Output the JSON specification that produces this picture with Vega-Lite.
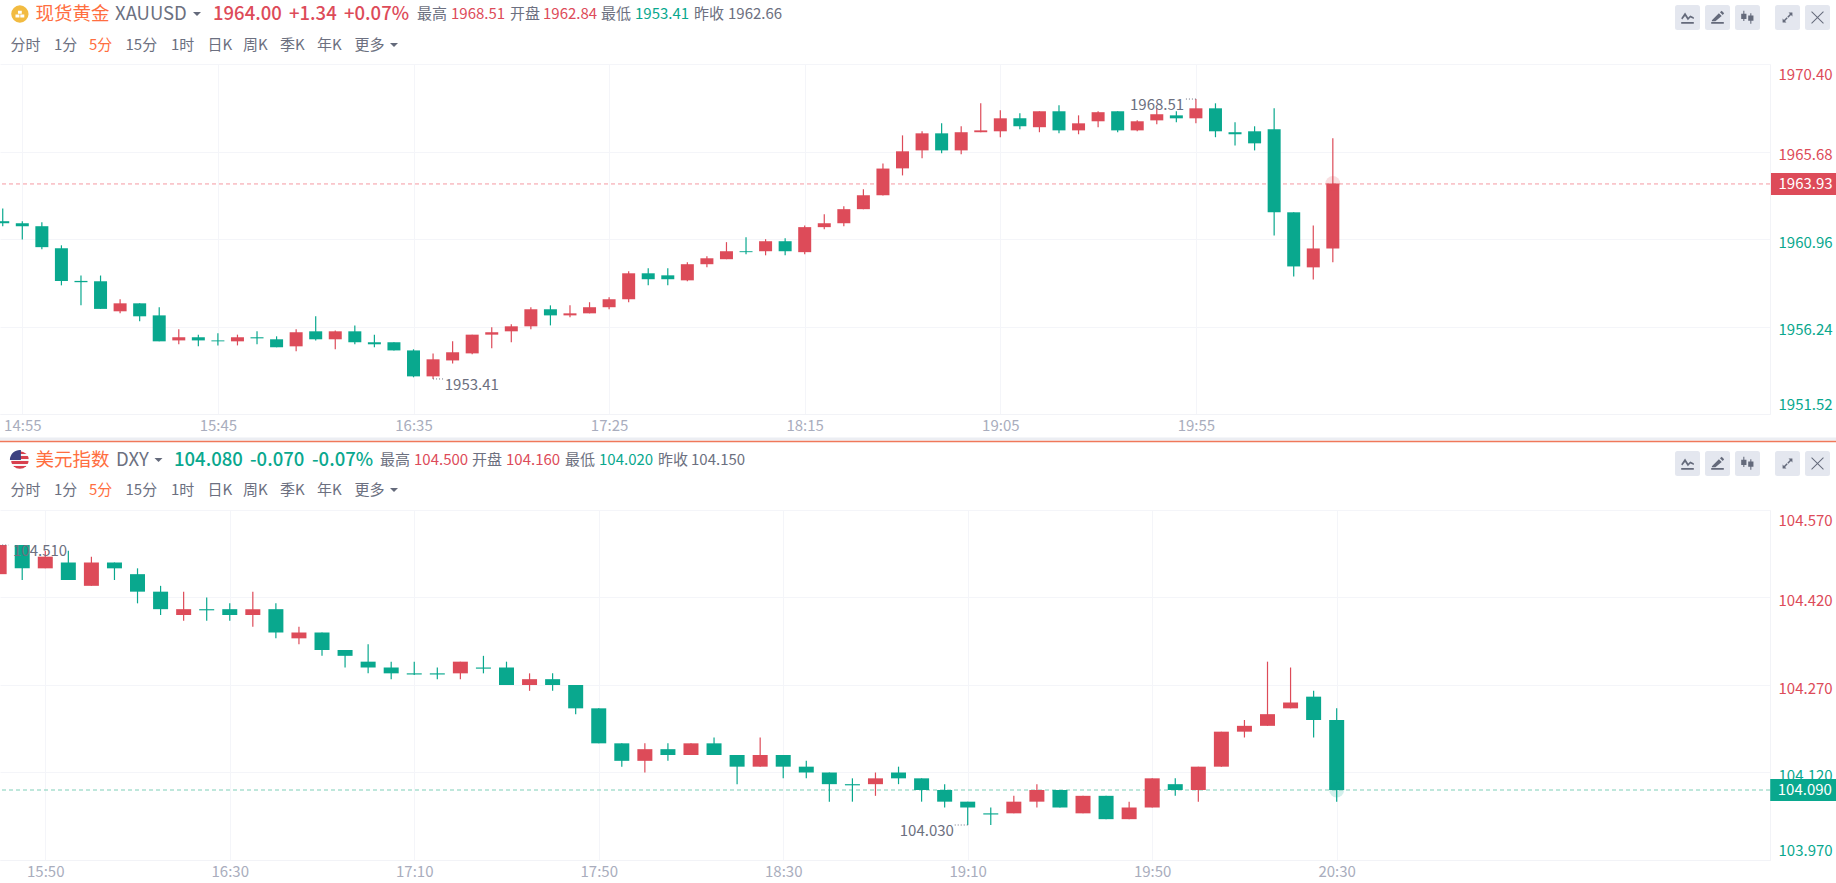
{
"$schema":"https://vega.github.io/schema/vega-lite/v6.json",
"background":"#ffffff","padding":0,"autosize":{"type":"pad"},"spacing":0,"bounds":"flush",
"config":{"view":{"stroke":null},"font":"Noto Sans CJK SC","text":{"font":"Noto Sans CJK SC"},"axis":{"labelFont":"Noto Sans CJK SC"}},
"datasets":{
"head1":[
{"s":1,"r":1,"label":"现货黄金","kind":"name"},
{"s":2,"r":1,"label":"XAUUSD","kind":"sym"},
{"s":4,"r":1,"label":"1964.00","kind":"quoteUp"},
{"s":5,"r":1,"label":"+1.34","kind":"quoteUp"},
{"s":6,"r":1,"label":"+0.07%","kind":"quoteUp"},
{"s":7,"r":1,"label":"最高","kind":"lab"},
{"s":8,"r":1,"label":"1968.51","kind":"valUp"},
{"s":9,"r":1,"label":"开盘","kind":"lab"},
{"s":10,"r":1,"label":"1962.84","kind":"valUp"},
{"s":11,"r":1,"label":"最低","kind":"lab"},
{"s":12,"r":1,"label":"1953.41","kind":"valDown"},
{"s":13,"r":1,"label":"昨收","kind":"lab"},
{"s":14,"r":1,"label":"1962.66","kind":"lab"},
{"s":15,"r":2,"label":"分时","kind":"lab"},
{"s":16,"r":2,"label":"1分","kind":"lab"},
{"s":17,"r":2,"label":"5分","kind":"name2"},
{"s":18,"r":2,"label":"15分","kind":"lab"},
{"s":19,"r":2,"label":"1时","kind":"lab"},
{"s":20,"r":2,"label":"日K","kind":"lab"},
{"s":21,"r":2,"label":"周K","kind":"lab"},
{"s":22,"r":2,"label":"季K","kind":"lab"},
{"s":23,"r":2,"label":"年K","kind":"lab"},
{"s":24,"r":2,"label":"更多","kind":"lab"}
],
"head2":[
{"s":1,"r":1,"label":"美元指数","kind":"name"},
{"s":2,"r":1,"label":"DXY","kind":"sym"},
{"s":4,"r":1,"label":"104.080","kind":"quoteDown"},
{"s":5,"r":1,"label":"-0.070","kind":"quoteDown"},
{"s":6,"r":1,"label":"-0.07%","kind":"quoteDown"},
{"s":7,"r":1,"label":"最高","kind":"lab"},
{"s":8,"r":1,"label":"104.500","kind":"valUp"},
{"s":9,"r":1,"label":"开盘","kind":"lab"},
{"s":10,"r":1,"label":"104.160","kind":"valUp"},
{"s":11,"r":1,"label":"最低","kind":"lab"},
{"s":12,"r":1,"label":"104.020","kind":"valDown"},
{"s":13,"r":1,"label":"昨收","kind":"lab"},
{"s":14,"r":1,"label":"104.150","kind":"lab"},
{"s":15,"r":2,"label":"分时","kind":"lab"},
{"s":16,"r":2,"label":"1分","kind":"lab"},
{"s":17,"r":2,"label":"5分","kind":"name2"},
{"s":18,"r":2,"label":"15分","kind":"lab"},
{"s":19,"r":2,"label":"1时","kind":"lab"},
{"s":20,"r":2,"label":"日K","kind":"lab"},
{"s":21,"r":2,"label":"周K","kind":"lab"},
{"s":22,"r":2,"label":"季K","kind":"lab"},
{"s":23,"r":2,"label":"年K","kind":"lab"},
{"s":24,"r":2,"label":"更多","kind":"lab"}
],
"tools":[
{"s":26,"r":3,"icon":"bg","z":0},{"s":27,"r":3,"icon":"bg","z":0},{"s":28,"r":3,"icon":"bg","z":0},{"s":29,"r":3,"icon":"bg","z":0},{"s":30,"r":3,"icon":"bg","z":0},
{"s":26,"r":3,"icon":"indicator","z":1},{"s":27,"r":3,"icon":"pen","z":1},{"s":28,"r":3,"icon":"candle","z":1},{"s":29,"r":3,"icon":"expand","z":1},{"s":30,"r":3,"icon":"close","z":1},
{"s":3,"r":1,"icon":"tri","z":1},{"s":25,"r":2,"icon":"tri","z":1}
]
},
"vconcat":[
{"width":1836,"height":64,
 "layer":[
  {"data":{"name":"tools"},"mark":{"type":"point","filled":true,"opacity":1},
   "encoding":{
    "x":{"field":"s","type":"quantitative","axis":null,"scale":{"nice":false,"zero":false,"domain":[0,1,2,3,4,5,6,7,8,9,10,11,12,13,14,15,16,17,18,19,20,21,22,23,24,25,26,27,28,29,30,31],"range":[0,35.5,115,197,213,289,344,417,451,510,543,601,635,694,728,10.5,54,89,125.5,171,207.6,243,280,317,354.6,394,1687.5,1717.5,1747.5,1787.5,1817.5,1836]}},
    "y":{"field":"r","type":"quantitative","axis":null,"scale":{"nice":false,"zero":false,"domain":[1,2,3],"range":[14,45,17.5]}},
    "order":{"field":"z"},
    "shape":{"field":"icon","type":"nominal","legend":null,"scale":{"domain":["bg","indicator","pen","candle","expand","close","tri"],"range":["M-0.8,-1H0.8Q1,-1 1,-0.8V0.8Q1,1 0.8,1H-0.8Q-1,1 -1,0.8V-0.8Q-1,-1 -0.8,-1Z","M-0.9,0.65H0.9V0.9H-0.9ZM-0.9,0.1L-0.35,-0.7L0.1,0L0.4,-0.3L0.9,-0.05V0.2L0.42,0L0.05,0.4L-0.35,-0.2L-0.75,0.3Z","M-0.9,0.65H0.9V0.9H-0.9ZM-0.8,0.4L0.2,-0.6L0.6,-0.2L-0.3,0.55H-0.8ZM0.35,-0.75L0.6,-0.95L0.95,-0.6L0.75,-0.35Z","M-0.6,-0.95H-0.45V-0.55H-0.15V0.2H-0.45V0.5H-0.6V0.2H-0.9V-0.55H-0.6ZM0.4,-0.6H0.55V-0.3H0.85V0.45H0.55V0.9H0.4V0.45H0.1V-0.3H0.4Z","M0.15,-0.7H0.7V-0.15L0.5,-0.35L0.12,0.03L-0.03,-0.12L0.35,-0.5ZM-0.15,0.7H-0.7V0.15L-0.5,0.35L-0.12,-0.03L0.03,0.12L-0.35,0.5Z","M-0.9,-0.8L-0.8,-0.9L0,-0.1L0.8,-0.9L0.9,-0.8L0.1,0L0.9,0.8L0.8,0.9L0,0.1L-0.8,0.9L-0.9,0.8L-0.1,0Z","M-1,-0.5H1L0,0.5Z"]}},
    "size":{"field":"icon","type":"nominal","legend":null,"scale":{"type":"ordinal","domain":["bg","indicator","pen","candle","expand","close","tri"],"range":[625,196,196,196,196,196,64]}},
    "color":{"field":"icon","type":"nominal","legend":null,"scale":{"domain":["bg","indicator","pen","candle","expand","close","tri"],"range":["#e4e7ef","#646a7b","#646a7b","#646a7b","#646a7b","#646a7b","#646a7b"]}}
   }},
  {"data":{"values":[{"s":0.56,"r":1,"icon":"coin"}]},"mark":{"type":"point","filled":true,"opacity":1,"shape":"circle","size":300,"color":"#f2bb41"},"encoding":{"x":{"field":"s","type":"quantitative"},"y":{"field":"r","type":"quantitative"}}},
  {"data":{"values":[{"s":0.56,"r":1,"icon":"coin"}]},"mark":{"type":"point","filled":true,"opacity":1,"size":121,"color":"#ffffff","shape":"M-0.35,-0.6H0.35V-0.05H-0.35ZM-0.8,0.1H-0.08V0.65H-0.8ZM0.08,0.1H0.8V0.65H0.08Z"},"encoding":{"x":{"field":"s","type":"quantitative"},"y":{"field":"r","type":"quantitative"}}},
  {"data":{"name":"head1"},"transform":[{"filter":"indexof(datum.kind,'quote')!==0"}],"mark":{"type":"text","align":"left","baseline":"middle","font":"Noto Sans CJK SC"},
   "encoding":{"x":{"field":"s","type":"quantitative"},"y":{"field":"r","type":"quantitative"},"text":{"field":"label"},
    "size":{"field":"kind","type":"nominal","legend":null,"scale":{"type":"ordinal","domain":["name","sym","lab","valUp","valDown","name2"],"range":[18.5,18.5,15,15,15,15]}},
    "color":{"field":"kind","type":"nominal","legend":null,"scale":{"domain":["name","sym","lab","valUp","valDown","name2"],"range":["#ff6e40","#6c7080","#6c7080","#dd4b59","#09a88e","#ff6e40"]}}}},
  {"data":{"name":"head1"},"transform":[{"filter":"indexof(datum.kind,'quote')===0"}],"mark":{"type":"text","align":"left","baseline":"middle","font":"Noto Sans CJK SC","fontSize":18.5,"fontWeight":500,"color":"#dd4b59"},
   "encoding":{"x":{"field":"s","type":"quantitative"},"y":{"field":"r","type":"quantitative"},"text":{"field":"label"}}}
 ],
 "resolve":{"scale":{"size":"independent","color":"independent"}}
},
{"width":1770,"height":350,
 "layer":[
  {"data":{"values":[{"p":1963.93}]},"mark":{"type":"rule","color":"#f59aa3","strokeWidth":1,"strokeDash":[4,3],"clip":true},
   "encoding":{"y":{"field":"p","type":"quantitative","title":null,"scale":{"domain":[1951.52,1970.40],"nice":false,"zero":false},
     "axis":{"orient":"right","title":null,"values":[1951.52,1956.24,1960.96,1965.68,1970.40],"format":".2f","grid":true,"gridColor":"#f4f5f9","gridWidth":1,"ticks":false,"domain":true,"domainColor":"#f2f3f7","labelPadding":8,"labelFontSize":15,"labelFont":"Noto Sans CJK SC","labelOffset":{"condition":[{"test":"datum.value>1970","value":10.5},{"test":"datum.value<1952","value":-10}],"value":3},"labelColor":{"condition":{"test":"datum.value>1962.66","value":"#dd4b59"},"value":"#09a88e"}}}}},
  {"data":{"values":[
{"t":"14:50","o":1961.92,"h":1962.6,"l":1961.65,"c":1961.81,"d":"d"},
{"t":"14:55","o":1961.81,"h":1961.92,"l":1960.93,"c":1961.65,"d":"d"},
{"t":"15:00","o":1961.65,"h":1961.87,"l":1960.41,"c":1960.52,"d":"d"},
{"t":"15:05","o":1960.46,"h":1960.62,"l":1958.46,"c":1958.7,"d":"d"},
{"t":"15:10","o":1958.7,"h":1958.99,"l":1957.38,"c":1958.63,"d":"d"},
{"t":"15:15","o":1958.68,"h":1958.99,"l":1957.19,"c":1957.19,"d":"d"},
{"t":"15:20","o":1957.06,"h":1957.71,"l":1956.95,"c":1957.49,"d":"u"},
{"t":"15:25","o":1957.49,"h":1957.49,"l":1956.52,"c":1956.79,"d":"d"},
{"t":"15:30","o":1956.84,"h":1957.28,"l":1955.44,"c":1955.44,"d":"d"},
{"t":"15:35","o":1955.49,"h":1956.09,"l":1955.28,"c":1955.66,"d":"u"},
{"t":"15:40","o":1955.66,"h":1955.8,"l":1955.17,"c":1955.49,"d":"d"},
{"t":"15:45","o":1955.49,"h":1955.87,"l":1955.22,"c":1955.44,"d":"d"},
{"t":"15:50","o":1955.44,"h":1955.8,"l":1955.22,"c":1955.66,"d":"u"},
{"t":"15:55","o":1955.66,"h":1955.98,"l":1955.28,"c":1955.6,"d":"d"},
{"t":"16:00","o":1955.55,"h":1955.71,"l":1955.12,"c":1955.12,"d":"d"},
{"t":"16:05","o":1955.17,"h":1956.09,"l":1954.9,"c":1955.93,"d":"u"},
{"t":"16:10","o":1955.98,"h":1956.79,"l":1955.49,"c":1955.55,"d":"d"},
{"t":"16:15","o":1955.55,"h":1956.03,"l":1955.01,"c":1955.98,"d":"u"},
{"t":"16:20","o":1955.98,"h":1956.3,"l":1955.28,"c":1955.39,"d":"d"},
{"t":"16:25","o":1955.39,"h":1955.8,"l":1955.12,"c":1955.28,"d":"d"},
{"t":"16:30","o":1955.39,"h":1955.39,"l":1954.95,"c":1954.95,"d":"d"},
{"t":"16:35","o":1954.95,"h":1955.01,"l":1953.5,"c":1953.55,"d":"d"},
{"t":"16:40","o":1953.55,"h":1954.79,"l":1953.41,"c":1954.47,"d":"u"},
{"t":"16:45","o":1954.41,"h":1955.44,"l":1954.25,"c":1954.85,"d":"u"},
{"t":"16:50","o":1954.79,"h":1955.8,"l":1954.74,"c":1955.8,"d":"u"},
{"t":"16:55","o":1955.8,"h":1956.2,"l":1955.06,"c":1955.93,"d":"u"},
{"t":"17:00","o":1955.98,"h":1956.36,"l":1955.39,"c":1956.25,"d":"u"},
{"t":"17:05","o":1956.25,"h":1957.28,"l":1956.09,"c":1957.17,"d":"u"},
{"t":"17:10","o":1957.17,"h":1957.38,"l":1956.3,"c":1956.84,"d":"d"},
{"t":"17:15","o":1956.84,"h":1957.38,"l":1956.74,"c":1956.95,"d":"u"},
{"t":"17:20","o":1956.95,"h":1957.55,"l":1956.95,"c":1957.28,"d":"u"},
{"t":"17:25","o":1957.28,"h":1957.82,"l":1957.17,"c":1957.71,"d":"u"},
{"t":"17:30","o":1957.71,"h":1959.22,"l":1957.55,"c":1959.11,"d":"u"},
{"t":"17:35","o":1959.11,"h":1959.38,"l":1958.46,"c":1958.79,"d":"d"},
{"t":"17:40","o":1959.0,"h":1959.38,"l":1958.46,"c":1958.79,"d":"d"},
{"t":"17:45","o":1958.73,"h":1959.71,"l":1958.68,"c":1959.6,"d":"u"},
{"t":"17:50","o":1959.6,"h":1960.03,"l":1959.44,"c":1959.92,"d":"u"},
{"t":"17:55","o":1959.87,"h":1960.79,"l":1959.87,"c":1960.3,"d":"u"},
{"t":"18:00","o":1960.3,"h":1961.06,"l":1960.14,"c":1960.25,"d":"d"},
{"t":"18:05","o":1960.3,"h":1960.95,"l":1960.08,"c":1960.84,"d":"u"},
{"t":"18:10","o":1960.84,"h":1961.0,"l":1960.08,"c":1960.3,"d":"d"},
{"t":"18:15","o":1960.25,"h":1961.69,"l":1960.14,"c":1961.6,"d":"u"},
{"t":"18:20","o":1961.6,"h":1962.3,"l":1961.49,"c":1961.81,"d":"u"},
{"t":"18:25","o":1961.81,"h":1962.73,"l":1961.65,"c":1962.57,"d":"u"},
{"t":"18:30","o":1962.57,"h":1963.65,"l":1962.57,"c":1963.32,"d":"u"},
{"t":"18:35","o":1963.32,"h":1965.03,"l":1963.31,"c":1964.76,"d":"u"},
{"t":"18:40","o":1964.77,"h":1966.55,"l":1964.39,"c":1965.69,"d":"u"},
{"t":"18:45","o":1965.74,"h":1966.77,"l":1965.31,"c":1966.66,"d":"u"},
{"t":"18:50","o":1966.66,"h":1967.2,"l":1965.58,"c":1965.74,"d":"d"},
{"t":"18:55","o":1965.74,"h":1967.04,"l":1965.53,"c":1966.72,"d":"u"},
{"t":"19:00","o":1966.72,"h":1968.28,"l":1966.72,"c":1966.82,"d":"u"},
{"t":"19:05","o":1966.77,"h":1967.9,"l":1966.45,"c":1967.47,"d":"u"},
{"t":"19:10","o":1967.47,"h":1967.74,"l":1966.88,"c":1967.04,"d":"d"},
{"t":"19:15","o":1966.99,"h":1967.85,"l":1966.72,"c":1967.85,"d":"u"},
{"t":"19:20","o":1967.85,"h":1968.17,"l":1966.66,"c":1966.82,"d":"d"},
{"t":"19:25","o":1966.82,"h":1967.63,"l":1966.61,"c":1967.2,"d":"u"},
{"t":"19:30","o":1967.31,"h":1967.85,"l":1966.99,"c":1967.8,"d":"u"},
{"t":"19:35","o":1967.85,"h":1967.85,"l":1966.72,"c":1966.82,"d":"d"},
{"t":"19:40","o":1966.82,"h":1967.36,"l":1966.77,"c":1967.31,"d":"u"},
{"t":"19:45","o":1967.36,"h":1968.01,"l":1967.15,"c":1967.69,"d":"u"},
{"t":"19:50","o":1967.63,"h":1967.85,"l":1967.26,"c":1967.47,"d":"d"},
{"t":"19:55","o":1967.47,"h":1968.51,"l":1967.2,"c":1968.01,"d":"u"},
{"t":"20:00","o":1968.01,"h":1968.28,"l":1966.45,"c":1966.77,"d":"d"},
{"t":"20:05","o":1966.72,"h":1967.26,"l":1966.01,"c":1966.61,"d":"d"},
{"t":"20:10","o":1966.77,"h":1967.04,"l":1965.74,"c":1966.12,"d":"d"},
{"t":"20:15","o":1966.88,"h":1968.01,"l":1961.15,"c":1962.4,"d":"d"},
{"t":"20:20","o":1962.4,"h":1962.4,"l":1958.94,"c":1959.48,"d":"d"},
{"t":"20:25","o":1959.43,"h":1961.69,"l":1958.78,"c":1960.45,"d":"u"},
{"t":"20:30","o":1960.45,"h":1966.39,"l":1959.7,"c":1963.96,"d":"u"}
],"format":{"parse":{"t":"utc:'%H:%M'"}}},
  "layer":[
  {"mark":{"type":"rule","strokeWidth":1.2,"clip":true},
   "encoding":{"x":{"field":"t","type":"temporal","title":null,"scale":{"type":"utc","padding":0,"domain":[{"year":1900,"month":1,"date":1,"hours":14,"minutes":49,"seconds":18,"utc":true},{"year":1900,"month":1,"date":1,"hours":22,"minutes":21,"seconds":45,"utc":true}]},
     "axis":{"orient":"bottom","title":null,"format":"%H:%M","grid":true,"gridColor":"#f4f5f9","gridWidth":1,"ticks":false,"domain":true,"domainColor":"#f2f3f7","labelColor":"#a9adbd","labelFontSize":15,"labelFont":"Noto Sans CJK SC","labelPadding":4,"labelOverlap":false,
      "values":[{"year":1900,"month":1,"date":1,"hours":14,"minutes":55,"utc":true},{"year":1900,"month":1,"date":1,"hours":15,"minutes":45,"utc":true},{"year":1900,"month":1,"date":1,"hours":16,"minutes":35,"utc":true},{"year":1900,"month":1,"date":1,"hours":17,"minutes":25,"utc":true},{"year":1900,"month":1,"date":1,"hours":18,"minutes":15,"utc":true},{"year":1900,"month":1,"date":1,"hours":19,"minutes":5,"utc":true},{"year":1900,"month":1,"date":1,"hours":19,"minutes":55,"utc":true}]}},
    "y":{"field":"h","type":"quantitative"},"y2":{"field":"l"},
    "color":{"field":"d","type":"nominal","legend":null,"scale":{"domain":["u","d"],"range":["#dd4b59","#09a88e"]}}}},
  {"mark":{"type":"bar","width":13,"clip":true},
   "encoding":{"x":{"field":"t","type":"temporal"},"y":{"field":"o","type":"quantitative"},"y2":{"field":"c"},
    "color":{"field":"d","type":"nominal","legend":null}}}
  ]},
  {"data":{"values":[{"t":"20:30","p":1963.96}],"format":{"parse":{"t":"utc:'%H:%M'"}}},"mark":{"type":"point","filled":true,"size":220,"opacity":0.18,"color":"#dd4b59","shape":"circle"},
   "encoding":{"x":{"field":"t","type":"temporal"},"y":{"field":"p","type":"quantitative"}}},
  {"data":{"values":[{"t":"16:40","t2":"16:43","p":1953.41},{"t":"19:55","t2":"19:52","p":1968.51}],"format":{"parse":{"t":"utc:'%H:%M'","t2":"utc:'%H:%M'"}}},"mark":{"type":"rule","color":"#6c7080","strokeWidth":1,"strokeDash":[1,2]},
   "encoding":{"x":{"field":"t","type":"temporal"},"x2":{"field":"t2"},"y":{"field":"p","type":"quantitative"}}},
  {"data":{"values":[{"t2":"16:43","p":1953.41,"label":"1953.41"}],"format":{"parse":{"t2":"utc:'%H:%M'"}}},"mark":{"type":"text","align":"left","baseline":"middle","dy":6,"fontSize":15,"color":"#6c7080","font":"Noto Sans CJK SC"},
   "encoding":{"x":{"field":"t2","type":"temporal"},"y":{"field":"p","type":"quantitative"},"text":{"field":"label"}}},
  {"data":{"values":[{"t2":"19:52","p":1968.51,"label":"1968.51"}],"format":{"parse":{"t2":"utc:'%H:%M'"}}},"mark":{"type":"text","align":"right","baseline":"middle","dy":6,"fontSize":15,"color":"#6c7080","font":"Noto Sans CJK SC"},
   "encoding":{"x":{"field":"t2","type":"temporal"},"y":{"field":"p","type":"quantitative"},"text":{"field":"label"}}},
  {"data":{"values":[{"t":"22:22","t2":"22:39","p":1963.93,"label":"1963.93"}],"format":{"parse":{"t":"utc:'%H:%M'","t2":"utc:'%H:%M'"}}},"mark":{"type":"rule","strokeWidth":22,"color":"#dd4b59"},
   "encoding":{"x":{"field":"t","type":"temporal"},"x2":{"field":"t2"},"y":{"field":"p","type":"quantitative"}}},
  {"data":{"values":[{"t":"22:22","p":1963.93,"label":"1963.93"}],"format":{"parse":{"t":"utc:'%H:%M'"}}},"mark":{"type":"text","align":"left","baseline":"middle","dx":7.5,"fontSize":15,"color":"#ffffff","font":"Noto Sans CJK SC"},
   "encoding":{"x":{"field":"t","type":"temporal"},"y":{"field":"p","type":"quantitative"},"text":{"field":"label"}}}
 ]
},
{"width":1836,"height":96,
 "layer":[
  {"data":{"values":[{"s":0,"s2":31,"r":4}]},"mark":{"type":"rule","color":"#eceef3","strokeWidth":3,"clip":true},
   "encoding":{
    "x":{"field":"s","type":"quantitative","axis":null,"scale":{"nice":false,"zero":false,"domain":[0,1,2,3,4,5,6,7,8,9,10,11,12,13,14,15,16,17,18,19,20,21,22,23,24,25,26,27,28,29,30,31],"range":[0,35.5,116,158.5,174,250,312,380,414,472,506,565,599,658,691,10.5,54,89,125.5,171,207.6,243,280,317,354.6,394,1687.5,1717.5,1747.5,1787.5,1817.5,1836]}},
    "x2":{"field":"s2"},
    "y":{"field":"r","type":"quantitative","axis":null,"scale":{"nice":false,"zero":false,"domain":[1,2,3,4,5],"range":[46,76,49.5,25,27.5]}}}},
  {"data":{"values":[{"s":0,"s2":31,"r":5}]},"mark":{"type":"rule","color":"#f0785a","strokeWidth":1.5,"clip":true},
   "encoding":{"x":{"field":"s","type":"quantitative"},"x2":{"field":"s2"},"y":{"field":"r","type":"quantitative"}}},
  {"data":{"name":"tools"},"mark":{"type":"point","filled":true,"opacity":1},
   "encoding":{"x":{"field":"s","type":"quantitative"},"y":{"field":"r","type":"quantitative"},"order":{"field":"z"},
    "shape":{"field":"icon","type":"nominal","legend":null,"scale":{"domain":["bg","indicator","pen","candle","expand","close","tri"],"range":["M-0.8,-1H0.8Q1,-1 1,-0.8V0.8Q1,1 0.8,1H-0.8Q-1,1 -1,0.8V-0.8Q-1,-1 -0.8,-1Z","M-0.9,0.65H0.9V0.9H-0.9ZM-0.9,0.1L-0.35,-0.7L0.1,0L0.4,-0.3L0.9,-0.05V0.2L0.42,0L0.05,0.4L-0.35,-0.2L-0.75,0.3Z","M-0.9,0.65H0.9V0.9H-0.9ZM-0.8,0.4L0.2,-0.6L0.6,-0.2L-0.3,0.55H-0.8ZM0.35,-0.75L0.6,-0.95L0.95,-0.6L0.75,-0.35Z","M-0.6,-0.95H-0.45V-0.55H-0.15V0.2H-0.45V0.5H-0.6V0.2H-0.9V-0.55H-0.6ZM0.4,-0.6H0.55V-0.3H0.85V0.45H0.55V0.9H0.4V0.45H0.1V-0.3H0.4Z","M0.15,-0.7H0.7V-0.15L0.5,-0.35L0.12,0.03L-0.03,-0.12L0.35,-0.5ZM-0.15,0.7H-0.7V0.15L-0.5,0.35L-0.12,-0.03L0.03,0.12L-0.35,0.5Z","M-0.9,-0.8L-0.8,-0.9L0,-0.1L0.8,-0.9L0.9,-0.8L0.1,0L0.9,0.8L0.8,0.9L0,0.1L-0.8,0.9L-0.9,0.8L-0.1,0Z","M-1,-0.5H1L0,0.5Z"]}},
    "size":{"field":"icon","type":"nominal","legend":null,"scale":{"type":"ordinal","domain":["bg","indicator","pen","candle","expand","close","tri"],"range":[625,196,196,196,196,196,64]}},
    "color":{"field":"icon","type":"nominal","legend":null,"scale":{"domain":["bg","indicator","pen","candle","expand","close","tri"],"range":["#e4e7ef","#646a7b","#646a7b","#646a7b","#646a7b","#646a7b","#646a7b"]}}}},
  {"data":{"values":[{"s":0.56,"r":1,"icon":"flag"}]},"mark":{"type":"point","filled":true,"opacity":1,"shape":"circle","size":314,"fill":{"gradient":"linear","x1":0,"y1":0,"x2":0,"y2":1,"stops":[{"offset":0,"color":"#d8404e"},{"offset":0.14,"color":"#d8404e"},{"offset":0.14,"color":"#f7f7f7"},{"offset":0.29,"color":"#f7f7f7"},{"offset":0.29,"color":"#d8404e"},{"offset":0.43,"color":"#d8404e"},{"offset":0.43,"color":"#f7f7f7"},{"offset":0.57,"color":"#f7f7f7"},{"offset":0.57,"color":"#d8404e"},{"offset":0.71,"color":"#d8404e"},{"offset":0.71,"color":"#f7f7f7"},{"offset":0.86,"color":"#f7f7f7"},{"offset":0.86,"color":"#d8404e"},{"offset":1,"color":"#d8404e"}]}},"encoding":{"x":{"field":"s","type":"quantitative"},"y":{"field":"r","type":"quantitative"}}},
  {"data":{"values":[{"s":0.56,"r":1,"icon":"canton"}]},"mark":{"type":"point","filled":true,"opacity":1,"size":400,"color":"#3d4180","shape":"M0.1,0V-1A1,1 0 0 0 -1,0Z"},"encoding":{"x":{"field":"s","type":"quantitative"},"y":{"field":"r","type":"quantitative"}}},
  {"data":{"name":"head2"},"transform":[{"filter":"indexof(datum.kind,'quote')!==0"}],"mark":{"type":"text","align":"left","baseline":"middle","font":"Noto Sans CJK SC"},
   "encoding":{"x":{"field":"s","type":"quantitative"},"y":{"field":"r","type":"quantitative"},"text":{"field":"label"},
    "size":{"field":"kind","type":"nominal","legend":null,"scale":{"type":"ordinal","domain":["name","sym","lab","valUp","valDown","name2"],"range":[18.5,18.5,15,15,15,15]}},
    "color":{"field":"kind","type":"nominal","legend":null,"scale":{"domain":["name","sym","lab","valUp","valDown","name2"],"range":["#ff6e40","#6c7080","#6c7080","#dd4b59","#09a88e","#ff6e40"]}}}},
  {"data":{"name":"head2"},"transform":[{"filter":"indexof(datum.kind,'quote')===0"}],"mark":{"type":"text","align":"left","baseline":"middle","font":"Noto Sans CJK SC","fontSize":18.5,"fontWeight":500,"color":"#09a88e"},
   "encoding":{"x":{"field":"s","type":"quantitative"},"y":{"field":"r","type":"quantitative"},"text":{"field":"label"}}}
 ],
 "resolve":{"scale":{"size":"independent","color":"independent"}}
},
{"width":1770,"height":350,
 "layer":[
  {"data":{"values":[{"p":104.09}]},"mark":{"type":"rule","color":"#7fcfb8","strokeWidth":1,"strokeDash":[4,3],"clip":true},
   "encoding":{"y":{"field":"p","type":"quantitative","title":null,"scale":{"domain":[103.97,104.57],"nice":false,"zero":false},
     "axis":{"orient":"right","title":null,"values":[103.97,104.12,104.27,104.42,104.57],"format":".3f","grid":true,"gridColor":"#f4f5f9","gridWidth":1,"ticks":false,"domain":true,"domainColor":"#f2f3f7","labelPadding":8,"labelFontSize":15,"labelFont":"Noto Sans CJK SC","labelOffset":{"condition":[{"test":"datum.value>104.56","value":10.5},{"test":"datum.value<103.98","value":-10}],"value":3},"labelColor":{"condition":{"test":"datum.value>104.15","value":"#dd4b59"},"value":"#09a88e"}}}}},
  {"data":{"values":[
{"t":"15:40","o":104.46,"h":104.51,"l":104.46,"c":104.51,"d":"u"},
{"t":"15:45","o":104.51,"h":104.51,"l":104.45,"c":104.47,"d":"d"},
{"t":"15:50","o":104.47,"h":104.5,"l":104.47,"c":104.49,"d":"u"},
{"t":"15:55","o":104.48,"h":104.5,"l":104.45,"c":104.45,"d":"d"},
{"t":"16:00","o":104.44,"h":104.49,"l":104.44,"c":104.48,"d":"u"},
{"t":"16:05","o":104.48,"h":104.48,"l":104.45,"c":104.47,"d":"d"},
{"t":"16:10","o":104.46,"h":104.47,"l":104.41,"c":104.43,"d":"d"},
{"t":"16:15","o":104.43,"h":104.44,"l":104.39,"c":104.4,"d":"d"},
{"t":"16:20","o":104.39,"h":104.43,"l":104.38,"c":104.4,"d":"u"},
{"t":"16:25","o":104.4,"h":104.42,"l":104.38,"c":104.398,"d":"d"},
{"t":"16:30","o":104.4,"h":104.41,"l":104.38,"c":104.39,"d":"d"},
{"t":"16:35","o":104.39,"h":104.43,"l":104.37,"c":104.4,"d":"u"},
{"t":"16:40","o":104.4,"h":104.41,"l":104.35,"c":104.36,"d":"d"},
{"t":"16:45","o":104.35,"h":104.37,"l":104.34,"c":104.36,"d":"u"},
{"t":"16:50","o":104.36,"h":104.36,"l":104.32,"c":104.33,"d":"d"},
{"t":"16:55","o":104.33,"h":104.33,"l":104.3,"c":104.32,"d":"d"},
{"t":"17:00","o":104.31,"h":104.34,"l":104.29,"c":104.3,"d":"d"},
{"t":"17:05","o":104.3,"h":104.31,"l":104.28,"c":104.29,"d":"d"},
{"t":"17:10","o":104.29,"h":104.31,"l":104.287,"c":104.288,"d":"d"},
{"t":"17:15","o":104.29,"h":104.3,"l":104.28,"c":104.288,"d":"d"},
{"t":"17:20","o":104.29,"h":104.31,"l":104.28,"c":104.31,"d":"u"},
{"t":"17:25","o":104.3,"h":104.32,"l":104.29,"c":104.298,"d":"d"},
{"t":"17:30","o":104.3,"h":104.31,"l":104.27,"c":104.27,"d":"d"},
{"t":"17:35","o":104.27,"h":104.29,"l":104.26,"c":104.28,"d":"u"},
{"t":"17:40","o":104.28,"h":104.29,"l":104.26,"c":104.27,"d":"d"},
{"t":"17:45","o":104.27,"h":104.27,"l":104.22,"c":104.23,"d":"d"},
{"t":"17:50","o":104.23,"h":104.23,"l":104.17,"c":104.17,"d":"d"},
{"t":"17:55","o":104.17,"h":104.17,"l":104.13,"c":104.14,"d":"d"},
{"t":"18:00","o":104.14,"h":104.17,"l":104.12,"c":104.16,"d":"u"},
{"t":"18:05","o":104.16,"h":104.17,"l":104.14,"c":104.15,"d":"d"},
{"t":"18:10","o":104.15,"h":104.17,"l":104.15,"c":104.17,"d":"u"},
{"t":"18:15","o":104.17,"h":104.18,"l":104.15,"c":104.15,"d":"d"},
{"t":"18:20","o":104.15,"h":104.15,"l":104.1,"c":104.13,"d":"d"},
{"t":"18:25","o":104.13,"h":104.18,"l":104.13,"c":104.15,"d":"u"},
{"t":"18:30","o":104.15,"h":104.15,"l":104.11,"c":104.13,"d":"d"},
{"t":"18:35","o":104.13,"h":104.14,"l":104.11,"c":104.12,"d":"d"},
{"t":"18:40","o":104.12,"h":104.12,"l":104.07,"c":104.1,"d":"d"},
{"t":"18:45","o":104.1,"h":104.11,"l":104.07,"c":104.098,"d":"d"},
{"t":"18:50","o":104.1,"h":104.12,"l":104.08,"c":104.11,"d":"u"},
{"t":"18:55","o":104.12,"h":104.13,"l":104.1,"c":104.11,"d":"d"},
{"t":"19:00","o":104.11,"h":104.11,"l":104.07,"c":104.09,"d":"d"},
{"t":"19:05","o":104.09,"h":104.1,"l":104.06,"c":104.07,"d":"d"},
{"t":"19:10","o":104.07,"h":104.07,"l":104.03,"c":104.06,"d":"d"},
{"t":"19:15","o":104.05,"h":104.06,"l":104.03,"c":104.048,"d":"d"},
{"t":"19:20","o":104.05,"h":104.08,"l":104.05,"c":104.07,"d":"u"},
{"t":"19:25","o":104.07,"h":104.1,"l":104.06,"c":104.09,"d":"u"},
{"t":"19:30","o":104.09,"h":104.09,"l":104.06,"c":104.06,"d":"d"},
{"t":"19:35","o":104.05,"h":104.08,"l":104.05,"c":104.08,"d":"u"},
{"t":"19:40","o":104.08,"h":104.08,"l":104.04,"c":104.04,"d":"d"},
{"t":"19:45","o":104.04,"h":104.07,"l":104.04,"c":104.06,"d":"u"},
{"t":"19:50","o":104.06,"h":104.11,"l":104.06,"c":104.11,"d":"u"},
{"t":"19:55","o":104.1,"h":104.11,"l":104.08,"c":104.09,"d":"d"},
{"t":"20:00","o":104.09,"h":104.13,"l":104.07,"c":104.13,"d":"u"},
{"t":"20:05","o":104.13,"h":104.19,"l":104.13,"c":104.19,"d":"u"},
{"t":"20:10","o":104.19,"h":104.21,"l":104.18,"c":104.2,"d":"u"},
{"t":"20:15","o":104.2,"h":104.31,"l":104.2,"c":104.22,"d":"u"},
{"t":"20:20","o":104.23,"h":104.3,"l":104.23,"c":104.24,"d":"u"},
{"t":"20:25","o":104.25,"h":104.26,"l":104.18,"c":104.21,"d":"d"},
{"t":"20:30","o":104.21,"h":104.23,"l":104.07,"c":104.09,"d":"d"}
],"format":{"parse":{"t":"utc:'%H:%M'"}}},
  "layer":[
  {"mark":{"type":"rule","strokeWidth":1.2,"clip":true},
   "encoding":{"x":{"field":"t","type":"temporal","title":null,"scale":{"type":"utc","padding":0,"domain":[{"year":1900,"month":1,"date":1,"hours":15,"minutes":40,"seconds":11,"utc":true},{"year":1900,"month":1,"date":1,"hours":22,"minutes":3,"seconds":57,"utc":true}]},
     "axis":{"orient":"bottom","title":null,"format":"%H:%M","grid":true,"gridColor":"#f4f5f9","gridWidth":1,"ticks":false,"domain":true,"domainColor":"#f2f3f7","labelColor":"#a9adbd","labelFontSize":15,"labelFont":"Noto Sans CJK SC","labelPadding":4,"labelOverlap":false,
      "values":[{"year":1900,"month":1,"date":1,"hours":15,"minutes":50,"utc":true},{"year":1900,"month":1,"date":1,"hours":16,"minutes":30,"utc":true},{"year":1900,"month":1,"date":1,"hours":17,"minutes":10,"utc":true},{"year":1900,"month":1,"date":1,"hours":17,"minutes":50,"utc":true},{"year":1900,"month":1,"date":1,"hours":18,"minutes":30,"utc":true},{"year":1900,"month":1,"date":1,"hours":19,"minutes":10,"utc":true},{"year":1900,"month":1,"date":1,"hours":19,"minutes":50,"utc":true},{"year":1900,"month":1,"date":1,"hours":20,"minutes":30,"utc":true}]}},
    "y":{"field":"h","type":"quantitative"},"y2":{"field":"l"},
    "color":{"field":"d","type":"nominal","legend":null,"scale":{"domain":["u","d"],"range":["#dd4b59","#09a88e"]}}}},
  {"mark":{"type":"bar","width":15,"clip":true},
   "encoding":{"x":{"field":"t","type":"temporal"},"y":{"field":"o","type":"quantitative"},"y2":{"field":"c"},
    "color":{"field":"d","type":"nominal","legend":null}}}
  ]},
  {"data":{"values":[{"t":"20:30","p":104.09}],"format":{"parse":{"t":"utc:'%H:%M'"}}},"mark":{"type":"point","filled":true,"size":220,"opacity":0.18,"color":"#09a88e","shape":"circle"},
   "encoding":{"x":{"field":"t","type":"temporal"},"y":{"field":"p","type":"quantitative"}}},
  {"data":{"values":[{"t":"19:10","t2":"19:07","p":104.03},{"t":"15:40","t2":"15:42","p":104.51}],"format":{"parse":{"t":"utc:'%H:%M'","t2":"utc:'%H:%M'"}}},"mark":{"type":"rule","color":"#6c7080","strokeWidth":1,"strokeDash":[1,2],"clip":true},
   "encoding":{"x":{"field":"t","type":"temporal"},"x2":{"field":"t2"},"y":{"field":"p","type":"quantitative"}}},
  {"data":{"values":[{"t2":"15:43","p":104.51,"label":"104.510"}],"format":{"parse":{"t2":"utc:'%H:%M'"}}},"mark":{"type":"text","align":"left","baseline":"middle","dy":6,"fontSize":15,"color":"#6c7080","font":"Noto Sans CJK SC"},
   "encoding":{"x":{"field":"t2","type":"temporal"},"y":{"field":"p","type":"quantitative"},"text":{"field":"label"}}},
  {"data":{"values":[{"t2":"19:07","p":104.03,"label":"104.030"}],"format":{"parse":{"t2":"utc:'%H:%M'"}}},"mark":{"type":"text","align":"right","baseline":"middle","dy":6,"fontSize":15,"color":"#6c7080","font":"Noto Sans CJK SC"},
   "encoding":{"x":{"field":"t2","type":"temporal"},"y":{"field":"p","type":"quantitative"},"text":{"field":"label"}}},
  {"data":{"values":[{"t":"22:04","t2":"22:19","p":104.09}],"format":{"parse":{"t":"utc:'%H:%M'","t2":"utc:'%H:%M'"}}},"mark":{"type":"rule","strokeWidth":22,"color":"#09a88e"},
   "encoding":{"x":{"field":"t","type":"temporal"},"x2":{"field":"t2"},"y":{"field":"p","type":"quantitative"}}},
  {"data":{"values":[{"t":"22:04","p":104.09,"label":"104.090"}],"format":{"parse":{"t":"utc:'%H:%M'"}}},"mark":{"type":"text","align":"left","baseline":"middle","dx":7.5,"fontSize":15,"color":"#ffffff","font":"Noto Sans CJK SC"},
   "encoding":{"x":{"field":"t","type":"temporal"},"y":{"field":"p","type":"quantitative"},"text":{"field":"label"}}}
 ]
}
]
}
